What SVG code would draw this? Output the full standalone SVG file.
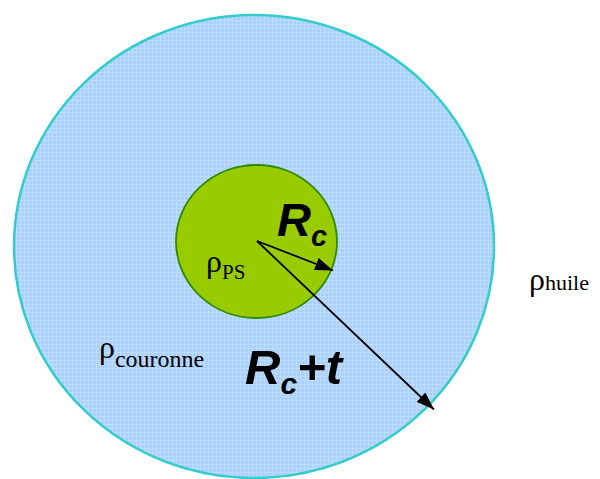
<svg xmlns="http://www.w3.org/2000/svg" width="600" height="479" viewBox="0 0 600 479">
<style>
.greek{font-family:"Liberation Serif","DejaVu Serif",serif;fill:#000}
.lbl{font-family:"Liberation Sans",Arial,sans-serif;font-weight:bold;font-style:italic;fill:#000}
.arrow{stroke:#000;stroke-width:1.8;fill:none}
</style>
<defs>
<pattern id="grid" width="4" height="4" patternUnits="userSpaceOnUse">
<rect width="4" height="4" fill="#aad0fd"/>
<rect width="4" height="1" fill="#bddcff"/>
<rect width="1" height="4" fill="#bddcff"/>
</pattern>
<marker id="ah" viewBox="0 0 18 13" refX="18" refY="6.5" markerWidth="18" markerHeight="13" markerUnits="userSpaceOnUse" orient="auto">
<path d="M0,0 L18,6.5 L0,13 Z" fill="#000"/>
</marker>
</defs>
<rect width="600" height="479" fill="#fff"/>
<g id="couronne">
<ellipse cx="254" cy="246.5" rx="240" ry="231.5" fill="url(#grid)" stroke="#33cccc" stroke-width="2.5"/>
<text class="greek" font-family="Liberation Serif, serif" x="99" y="358" font-size="32">ρ<tspan font-size="24" dy="9">couronne</tspan></text>
</g>
<g id="ps">
<ellipse cx="256.5" cy="241.5" rx="80.5" ry="76.5" fill="#99cc00" stroke="#2e8b00" stroke-width="1.8"/>
<text class="greek" font-family="Liberation Serif, serif" x="206" y="272" font-size="32">ρ<tspan font-size="21" dy="7">PS</tspan></text>
</g>
<g id="huile">
<text class="greek" font-family="Liberation Serif, serif" x="529" y="290" font-size="32">ρ<tspan font-size="22">huile</tspan></text>
</g>
<g id="connectors">
<line class="arrow" x1="257" y1="241" x2="333" y2="270.5" marker-end="url(#ah)"/>
<line class="arrow" x1="257" y1="241" x2="434" y2="409.5" marker-end="url(#ah)"/>
</g>
<g id="labels">
<text class="lbl" x="277" y="236" font-size="47">R<tspan font-size="29" dy="10">c</tspan></text>
<text class="lbl" x="245" y="384" font-size="49">R<tspan font-size="30" dy="10">c</tspan><tspan dy="-10">+t</tspan></text>
</g>
</svg>
